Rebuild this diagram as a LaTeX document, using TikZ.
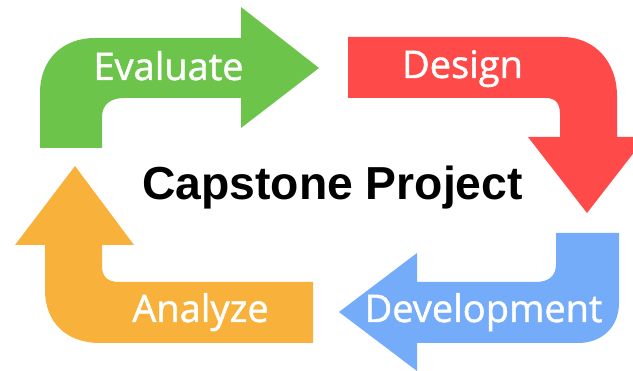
\documentclass[tikz,border=0pt]{standalone}
\usepackage{fontspec}
\setmainfont{Open Sans}
\newfontfamily\labelfont[FakeBold=1.2]{Open Sans}
\newfontfamily\titlefont{Liberation Sans}
\definecolor{evalgreen}{RGB}{108,196,74}
\definecolor{designred}{RGB}{255,74,74}
\definecolor{analyzeorange}{RGB}{248,177,58}
\definecolor{devblue}{RGB}{116,172,250}
\begin{document}
\begin{tikzpicture}[x=1pt,y=-1pt,
  steplabel/.style={anchor=base,text=white,inner sep=0pt,font=\labelfont\fontsize{38}{40}\selectfont},
  titlelabel/.style={anchor=base,text=black,inner sep=0pt,font=\titlefont\bfseries\fontsize{46.3}{50}\selectfont}]
\useasboundingbox (0,0) rectangle (633,371);
\clip (0,0) rectangle (633,371);
\fill[white] (0,0) rectangle (633,371);

% Evaluate: up and then right
\fill[evalgreen] (40,148) -- (40,93) .. controls (40,60) and (62,38) .. (95,38)
  -- (241,38) -- (241,7) -- (319,68) -- (241,128) -- (241,98) -- (124,98)
  .. controls (110,98) and (102,105) .. (102,117) -- (102,148) -- cycle;

% Design: right and then down
\fill[designred] (348,37) -- (562,37) .. controls (595,37) and (617,62) .. (617,96)
  -- (617,137) -- (646,137) -- (587,213) -- (528,137) -- (560,137) -- (560,114)
  .. controls (560,104) and (556,98) .. (546,98) -- (348,98) -- cycle;

% Development: down and then left
\fill[devblue] (556,233) -- (619,233) -- (619,303) .. controls (619,327) and (602,343) .. (578,343)
  -- (417,343) -- (417,371) -- (339,312) -- (417,253) -- (417,282) -- (535,282)
  .. controls (549,282) and (556,276) .. (556,264) -- cycle;

% Analyze: left and then up
\fill[analyzeorange] (313,282) -- (313,343) -- (100,343) .. controls (66,343) and (45,322) .. (45,290)
  -- (45,245) -- (15,245) -- (75,166) -- (134,245) -- (102,245) -- (102,266)
  .. controls (102,276) and (107,282) .. (119,282) -- cycle;

\node[steplabel] (evaluate) at (168.5,80) {Evaluate};
\node[steplabel] (design) at (462.5,78) {Design};
\node[steplabel] (analyze) at (200.5,322) {Analyze};
\node[steplabel] (development) at (483.5,322) {Development};
\node[titlelabel] (title) at (332.5,200) {Capstone Project};
\end{tikzpicture}
\end{document}
